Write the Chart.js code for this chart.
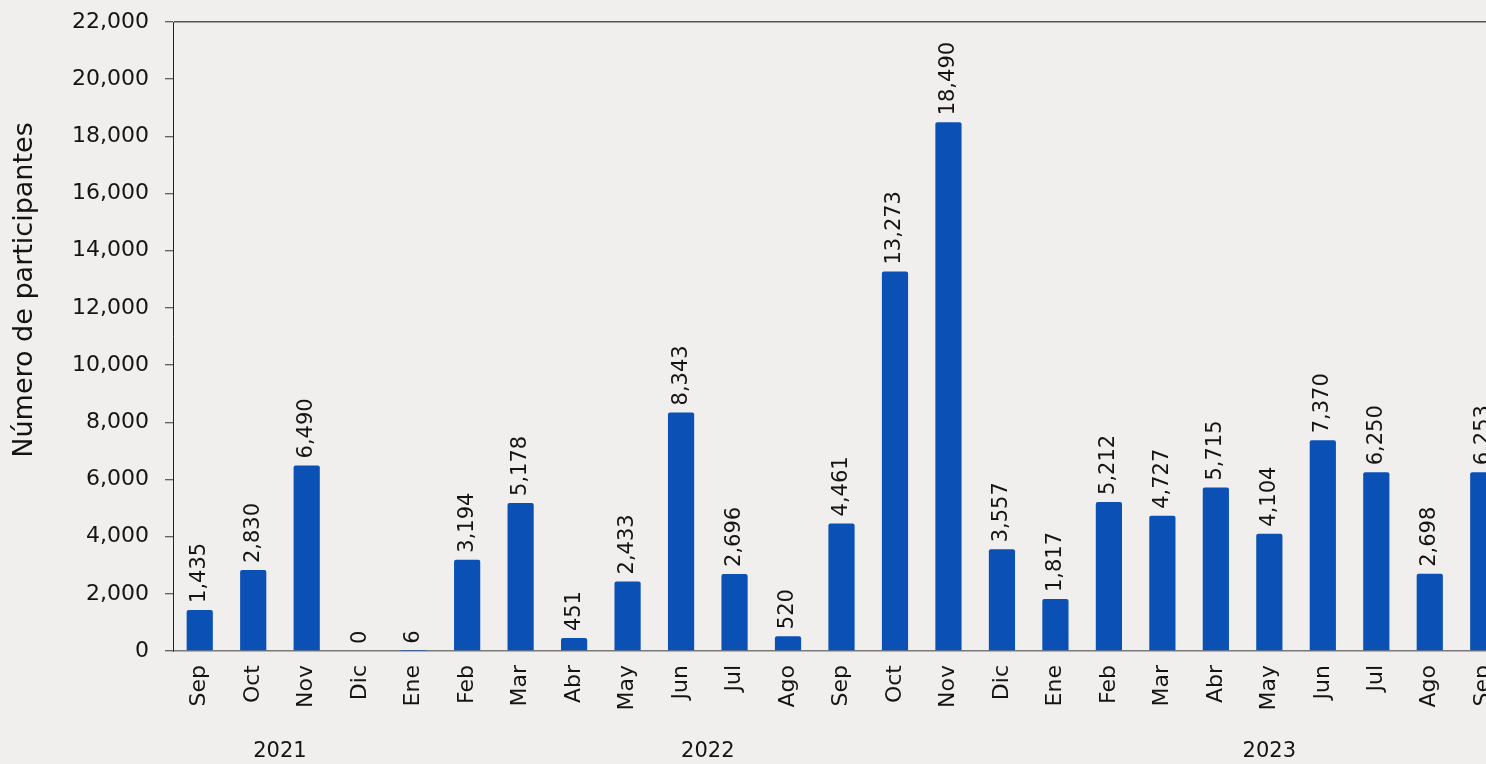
<!DOCTYPE html>
<html lang="es">
<head>
<meta charset="utf-8">
<title>Participantes por mes</title>
<script src="https://cdn.jsdelivr.net/npm/chart.js@4"></script>
<style>
    html, body { margin: 0; padding: 0; overflow: hidden; background: #f0efed; }
    #participantes-grafica { display: block; }
</style>
</head>
<body>
<canvas id="participantes-grafica" width="1530" height="764"></canvas>
<script>
const meses = ['Sep','Oct','Nov','Dic','Ene','Feb','Mar','Abr','May','Jun','Jul','Ago',
               'Sep','Oct','Nov','Dic','Ene','Feb','Mar','Abr','May','Jun','Jul','Ago','Sep'];
const anios = ['2021', '2022', '2023'];
const participantes = [1435, 2830, 6490, 0, 6, 3194, 5178, 451, 2433, 8343, 2696, 520,
                       4461, 13273, 18490, 3557, 1817, 5212, 4727, 5715, 4104, 7370, 6250, 2698, 6253];
const ticksY = [0, 2000, 4000, 6000, 8000, 10000, 12000, 14000, 16000, 18000, 20000, 22000];
const tituloY = 'Número de participantes';

const fuente = '"DejaVu Sans", sans-serif';
const colorTexto = '#141414';
const formato = n => n.toLocaleString('en-US');

// etiquetas de valor giradas sobre cada barra
const etiquetasValor = {
    id: 'etiquetasValor',
    afterDatasetsDraw(chart) {
        const { ctx } = chart;
        const meta = chart.getDatasetMeta(0);
        ctx.save();
        ctx.font = '21px ' + fuente;
        ctx.fillStyle = colorTexto;
        ctx.textAlign = 'left';
        ctx.textBaseline = 'middle';
        meta.data.forEach((barra, i) => {
            ctx.save();
            ctx.translate(barra.x, barra.y - 7);
            ctx.rotate(-Math.PI / 2);
            ctx.fillText(formato(participantes[i]), 0, 0);
            ctx.restore();
        });
        ctx.restore();
    }
};

// años centrados debajo de sus meses + titulo del eje y (un poco arriba del centro, como el original)
const etiquetasAnio = {
    id: 'etiquetasAnio',
    afterDraw(chart) {
        const { ctx } = chart;
        const x = chart.scales.x;
        const grupos = [];
        let inicio = 0;
        meses.forEach((m, i) => {
            if (m === 'Ene' && i > 0) {
                grupos.push([inicio, i - 1]);
                inicio = i;
            }
        });
        grupos.push([inicio, meses.length - 1]);

        ctx.save();
        ctx.font = '21px ' + fuente;
        ctx.fillStyle = colorTexto;
        ctx.textAlign = 'center';
        ctx.textBaseline = 'middle';
        grupos.forEach(([a, b], g) => {
            const centro = (x.getPixelForValue(a) + x.getPixelForValue(b)) / 2;
            ctx.fillText(anios[g], centro, 752);
        });

        ctx.font = '27px ' + fuente;
        ctx.translate(25, 290);
        ctx.rotate(-Math.PI / 2);
        ctx.fillText(tituloY, 0, 0);
        ctx.restore();
    }
};

const grafica = document.querySelector('#participantes-grafica');

new Chart(grafica, {
    type: 'bar',
    data: {
        labels: meses,
        datasets: [{
            label: 'Participantes',
            data: participantes,
            backgroundColor: '#0b51b5',
            borderRadius: 2,
            borderSkipped: 'bottom',
            barPercentage: 0.49,
            categoryPercentage: 1
        }]
    },
    options: {
        responsive: false,
        animation: false,
        layout: {
            padding: { top: 22, right: 20, bottom: 0, left: 0 }
        },
        scales: {
            x: {
                grid: { display: false },
                border: { display: true, color: '#7a7a7a', width: 1.5 },
                ticks: {
                    autoSkip: false,
                    minRotation: 90,
                    maxRotation: 90,
                    padding: 6,
                    color: colorTexto,
                    font: { family: fuente, size: 22 }
                },
                afterFit(escala) {
                    escala.height = 113;
                    escala.paddingLeft = 0;
                    escala.paddingRight = 0;
                }
            },
            y: {
                min: 0,
                max: 22000,
                afterBuildTicks(escala) {
                    escala.ticks = ticksY.map(v => ({ value: v }));
                },
                grid: {
                    color: c => c.tick && c.tick.value === 22000 ? '#555555' : 'rgba(0,0,0,0)',
                    lineWidth: 1.5,
                    drawTicks: true,
                    tickLength: 8,
                    tickColor: '#333333',
                    tickWidth: 1
                },
                border: { display: true, color: '#222222', width: 1 },
                ticks: {
                    padding: 16,
                    color: colorTexto,
                    font: { family: fuente, size: 22 },
                    callback: v => formato(v)
                },
                title: { display: false },
                afterFit(escala) {
                    escala.width = 173;
                    escala.paddingTop = 0;
                    escala.paddingBottom = 0;
                }
            }
        },
        plugins: {
            legend: { display: false },
            tooltip: { enabled: false }
        }
    },
    plugins: [etiquetasValor, etiquetasAnio]
});
</script>
</body>
</html>
